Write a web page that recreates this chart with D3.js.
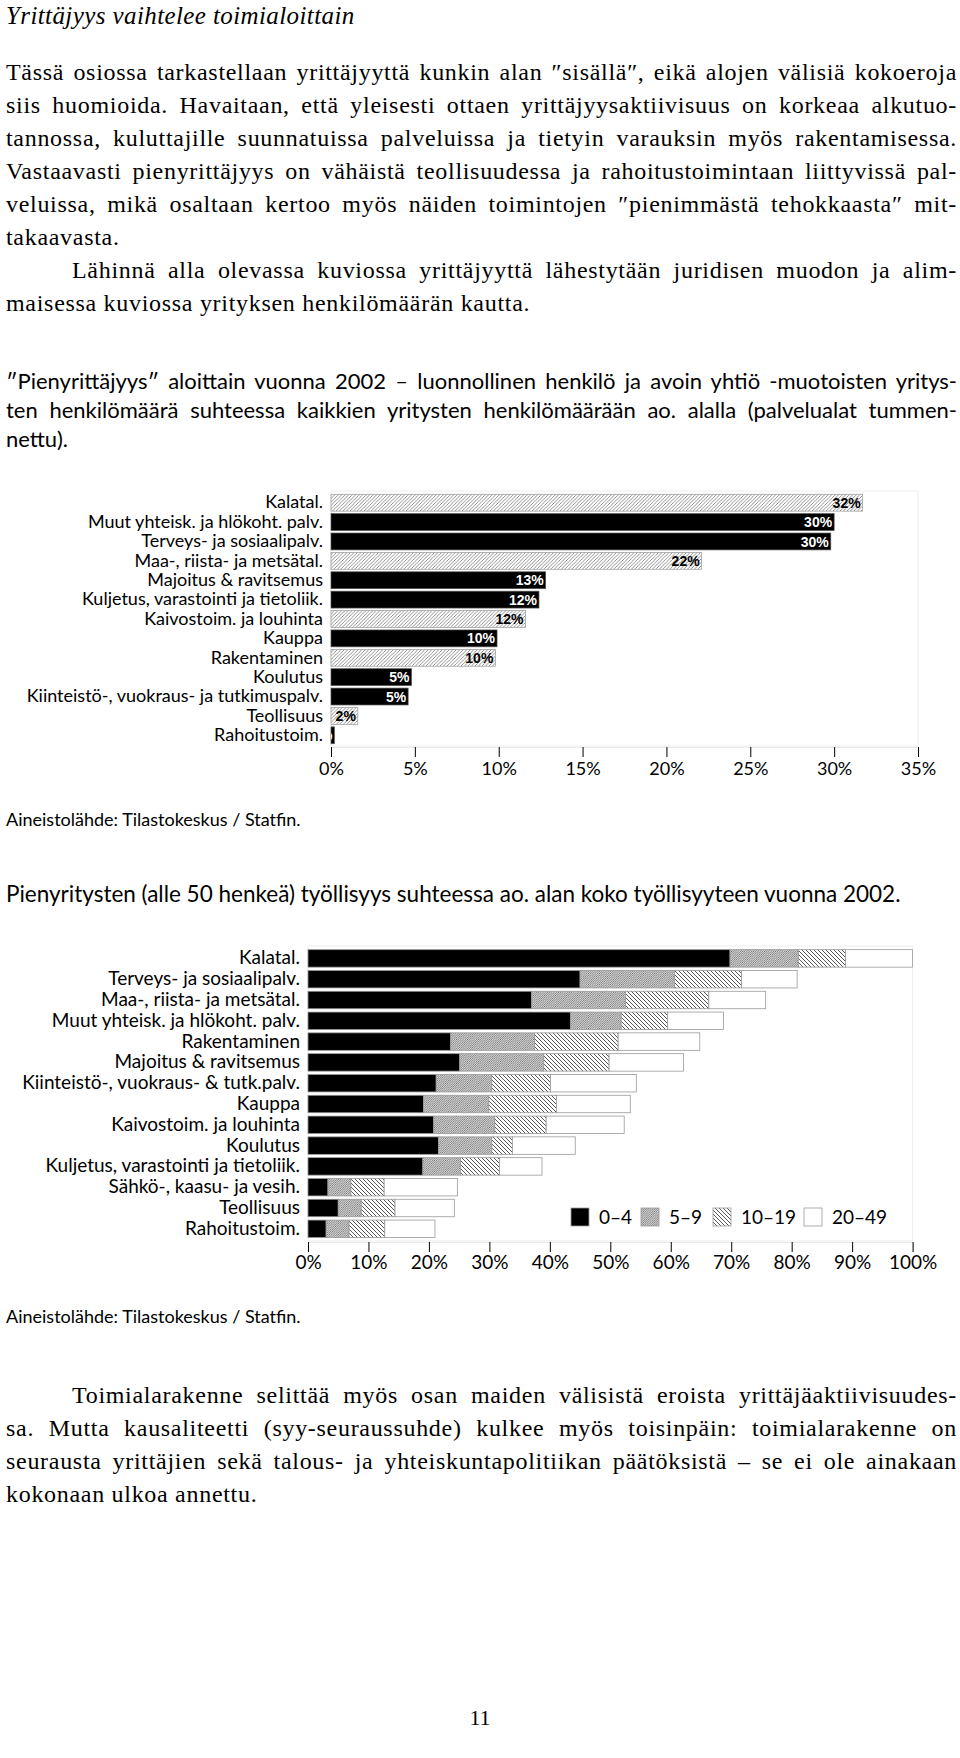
<!DOCTYPE html>
<html lang="fi">
<head>
<meta charset="utf-8">
<script src="https://cdn.jsdelivr.net/npm/d3@7"></script>
<style>
  body { margin: 0; background: #fff; }
  #page { position: relative; width: 960px; height: 1758px; overflow: hidden; background: #fff; }
  .line { position: absolute; left: 6px; width: 951px; height: 34px; line-height: 34px;
          box-sizing: border-box; white-space: nowrap;
          font-family: "Liberation Serif", serif; font-size: 24px; letter-spacing: 0.7px; color: #000; }
  .line.sans { font-family: Lato, sans-serif; font-size: 22px; letter-spacing: 0; }
  .line.title { font-style: italic; font-size: 25px; letter-spacing: 0.4px; }
  svg { position: absolute; left: 0; top: 0; }
</style>
</head>
<body>
<div id="page"></div>
<script>
// ---- Chart 1: small entrepreneurship share by industry (2002) ----
const industries1 = [
    "Kalatal.",
    "Muut yhteisk. ja hlökoht. palv.",
    "Terveys- ja sosiaalipalv.",
    "Maa-, riista- ja metsätal.",
    "Majoitus & ravitsemus",
    "Kuljetus, varastointi ja tietoliik.",
    "Kaivostoim. ja louhinta",
    "Kauppa",
    "Rakentaminen",
    "Koulutus",
    "Kiinteistö-, vuokraus- ja tutkimuspalv.",
    "Teollisuus",
    "Rahoitustoim."
];
const smallShare = [31.7, 30.0, 29.8, 22.1, 12.8, 12.4, 11.6, 9.9, 9.8, 4.8, 4.6, 1.6, 0.2];
const isService = [false, true, true, false, true, true, false, true, false, true, true, false, true];
const ticks1 = [0, 5, 10, 15, 20, 25, 30, 35];

// ---- Chart 2: employment in small firms by size class ----
const industries2 = [
    "Kalatal.",
    "Terveys- ja sosiaalipalv.",
    "Maa-, riista- ja metsätal.",
    "Muut yhteisk. ja hlökoht. palv.",
    "Rakentaminen",
    "Majoitus & ravitsemus",
    "Kiinteistö-, vuokraus- & tutk.palv.",
    "Kauppa",
    "Kaivostoim. ja louhinta",
    "Koulutus",
    "Kuljetus, varastointi ja tietoliik.",
    "Sähkö-, kaasu- ja vesih.",
    "Teollisuus",
    "Rahoitustoim."
];
const size0to4   = [69.8, 45.0, 37.0, 43.4, 23.6, 25.1, 21.2, 19.1, 20.8, 21.6, 19.0, 3.3, 5.0, 3.0];
const size5to9   = [11.3, 15.6, 15.5, 8.4, 13.9, 13.9, 9.2, 10.8, 10.1, 8.8, 6.2, 3.8, 3.8, 3.8];
const size10to19 = [7.8, 11.1, 13.8, 7.7, 13.8, 10.8, 9.7, 11.2, 8.5, 3.4, 6.5, 5.5, 5.6, 5.9];
const size20to49 = [11.1, 9.2, 9.4, 9.2, 13.5, 12.3, 14.2, 12.2, 12.9, 10.4, 7.0, 12.1, 9.8, 8.3];
const sizeClasses = ["0–4", "5–9", "10–19", "20–49"];
const ticks2 = [0, 10, 20, 30, 40, 50, 60, 70, 80, 90, 100];

// ---- Page text ----
const introLines = [
    "Tässä osiossa tarkastellaan yrittäjyyttä kunkin alan ″sisällä″, eikä alojen välisiä kokoeroja",
    "siis huomioida. Havaitaan, että yleisesti ottaen yrittäjyysaktiivisuus on korkeaa alkutuo-",
    "tannossa, kuluttajille suunnatuissa palveluissa ja tietyin varauksin myös rakentamisessa.",
    "Vastaavasti pienyrittäjyys on vähäistä teollisuudessa ja rahoitustoimintaan liittyvissä pal-",
    "veluissa, mikä osaltaan kertoo myös näiden toimintojen ″pienimmästä tehokkaasta″ mit-",
    "takaavasta.",
    "Lähinnä alla olevassa kuviossa yrittäjyyttä lähestytään juridisen muodon ja alim-",
    "maisessa kuviossa yrityksen henkilömäärän kautta."
];
const heading1Lines = [
    "″Pienyrittäjyys″ aloittain vuonna 2002 – luonnollinen henkilö ja avoin yhtiö -muotoisten yritys-",
    "ten henkilömäärä suhteessa kaikkien yritysten henkilömäärään ao. alalla (palvelualat tummen-",
    "nettu)."
];
const outroLines = [
    "Toimialarakenne selittää myös osan maiden välisistä eroista yrittäjäaktiivisuudes-",
    "sa. Mutta kausaliteetti (syy-seuraussuhde) kulkee myös toisinpäin: toimialarakenne on",
    "seurausta yrittäjien sekä talous- ja yhteiskuntapolitiikan päätöksistä – se ei ole ainakaan",
    "kokonaan ulkoa annettu."
];

const page = d3.select("#page");
const lineWidth = 951;

// one line of running text, y = vertical centre; justified lines get word-spacing
function textLine(text, y, opts) {
    const div = page.append("div")
        .attr("class", "line" + (opts.cls ? " " + opts.cls : ""))
        .style("top", (y - 17) + "px")
        .style("padding-left", (opts.indent || 0) + "px");
    const span = div.append("span").text(text);
    if (opts.justify) {
        const w = span.node().getBoundingClientRect().width;
        const gaps = (text.match(/ /g) || []).length;
        const extra = (lineWidth - (opts.indent || 0) - w) / gaps;
        span.style("word-spacing", extra + "px");
    }
    return div;
}

textLine("Yrittäjyys vaihtelee toimialoittain", 16, { cls: "title" });

introLines.forEach((t, i) => {
    textLine(t, 72 + i * 33, {
        justify: i !== 5 && i !== 7,
        indent: i === 6 ? 66 : 0
    });
});

heading1Lines.forEach((t, i) => {
    textLine(t, 381 + i * 29, { cls: "sans", justify: i < 2 });
});

outroLines.forEach((t, i) => {
    textLine(t, 1395 + i * 33, { justify: i < 3, indent: i === 0 ? 66 : 0 });
});

// ---- SVG for both charts ----
const svg = page.append("svg")
    .attr("width", 960)
    .attr("height", 1758);

const defs = svg.append("defs");

// diagonal line pattern, dir "/" or "\"
function hatch(id, s, bg, color, w, dir) {
    const p = defs.append("pattern")
        .attr("id", id)
        .attr("patternUnits", "userSpaceOnUse")
        .attr("width", s)
        .attr("height", s);
    p.append("rect").attr("width", s).attr("height", s).attr("fill", bg);
    const d = dir === "/"
        ? `M-1,1 l2,-2 M0,${s} l${s},${-s} M${s - 1},${s + 1} l2,-2`
        : `M-1,${s - 1} l2,2 M0,0 l${s},${s} M${s - 1},-1 l2,2`;
    p.append("path").attr("d", d).attr("stroke", color).attr("stroke-width", w);
}
hatch("hatch1", 3.5, "#fff", "#777", 0.8, "/");
hatch("fine", 2.2, "#d4d4d4", "#666", 0.7, "/");
hatch("back", 4, "#fff", "#444", 0.9, "\\");

const labelFont = "Lato, sans-serif";

// ============ Chart 1 ============
const x1 = d3.scaleLinear().domain([0, 35]).range([331, 918]);
const y1 = d3.scaleBand()
    .domain(industries1)
    .range([493, 745])
    .paddingInner(0.13)
    .paddingOuter(0.065);

// faint plot frame
svg.append("rect")
    .attr("x", x1(0)).attr("y", 491)
    .attr("width", x1(35) - x1(0)).attr("height", 255)
    .attr("fill", "none").attr("stroke", "#eeeeee");

const rows1 = industries1.map((name, i) => ({ name, value: smallShare[i], service: isService[i] }));

svg.append("clipPath").attr("id", "clip1")
    .append("rect")
    .attr("x", x1(0)).attr("y", 490)
    .attr("width", x1(35) - x1(0)).attr("height", 256);

svg.append("g").selectAll("rect")
    .data(rows1)
    .join("rect")
    .attr("x", x1(0))
    .attr("y", d => y1(d.name))
    .attr("width", d => x1(d.value) - x1(0))
    .attr("height", y1.bandwidth())
    .attr("fill", d => d.service ? "#000" : "url(#hatch1)")
    .attr("stroke", d => d.service ? "#555" : "#999")
    .attr("stroke-width", 0.7);

// value labels inside bar ends
svg.append("g")
    .attr("clip-path", "url(#clip1)")
    .selectAll("text")
    .data(rows1)
    .join("text")
    .attr("x", d => x1(d.value) - 2)
    .attr("y", d => y1(d.name) + y1.bandwidth() / 2)
    .attr("dy", "0.36em")
    .attr("text-anchor", "end")
    .attr("font-family", "'Liberation Sans Narrow', 'Liberation Sans', sans-serif")
    .attr("font-stretch", "condensed")
    .attr("font-weight", "bold")
    .attr("font-size", 14)
    .attr("fill", d => d.service ? "#fff" : "#000")
    .text(d => Math.round(d.value) + "%");

// category axis
svg.append("g")
    .attr("transform", `translate(${x1(0)},0)`)
    .call(d3.axisLeft(y1).tickSize(0).tickPadding(8))
    .call(g => g.select(".domain").remove())
    .selectAll("text")
    .attr("font-family", labelFont)
    .attr("font-size", 18)
    .attr("fill", "#000");

// value axis
svg.append("g")
    .attr("transform", "translate(0,747)")
    .call(d3.axisBottom(x1).tickValues(ticks1).tickSize(10).tickPadding(5).tickFormat(d => d + "%"))
    .call(g => g.select(".domain").attr("stroke", "#e8e8e8"))
    .call(g => g.selectAll("text").attr("font-family", labelFont).attr("font-size", 18).attr("fill", "#000"));

svg.append("text")
    .attr("x", 6).attr("y", 820).attr("dy", "0.35em")
    .attr("font-family", labelFont).attr("font-size", 18)
    .text("Aineistolähde: Tilastokeskus / Statfin.");

svg.append("text")
    .attr("x", 6).attr("y", 894).attr("dy", "0.35em")
    .attr("font-family", labelFont).attr("font-size", 22.5)
    .text("Pienyritysten (alle 50 henkeä) työllisyys suhteessa ao. alan koko työllisyyteen vuonna 2002.");

// ============ Chart 2 ============
const x2 = d3.scaleLinear().domain([0, 100]).range([308, 912.6]);
const y2 = d3.scaleBand()
    .domain(industries2)
    .range([948, 1239.2])
    .paddingInner(0.16)
    .paddingOuter(0.08);

svg.append("rect")
    .attr("x", x2(0)).attr("y", 946)
    .attr("width", x2(100) - x2(0)).attr("height", 295)
    .attr("fill", "none").attr("stroke", "#eeeeee");

const rows2 = industries2.map((name, i) => ({
    name,
    "0–4": size0to4[i],
    "5–9": size5to9[i],
    "10–19": size10to19[i],
    "20–49": size20to49[i]
}));
const stacked = d3.stack().keys(sizeClasses)(rows2);
const fills = ["#000", "url(#fine)", "url(#back)", "#fff"];

svg.append("g").selectAll("g")
    .data(stacked)
    .join("g")
    .attr("fill", (d, i) => fills[i])
    .selectAll("rect")
    .data(d => d)
    .join("rect")
    .attr("x", d => x2(d[0]))
    .attr("y", d => y2(d.data.name))
    .attr("width", d => x2(d[1]) - x2(d[0]))
    .attr("height", y2.bandwidth())
    .attr("stroke", "#999")
    .attr("stroke-width", 0.8);

svg.append("g")
    .attr("transform", `translate(${x2(0)},0)`)
    .call(d3.axisLeft(y2).tickSize(0).tickPadding(8))
    .call(g => g.select(".domain").remove())
    .selectAll("text")
    .attr("font-family", labelFont)
    .attr("font-size", 19)
    .attr("fill", "#000");

svg.append("g")
    .attr("transform", "translate(0,1242)")
    .call(d3.axisBottom(x2).tickValues(ticks2).tickSize(10).tickPadding(4).tickFormat(d => d + "%"))
    .call(g => g.select(".domain").attr("stroke", "#e8e8e8"))
    .call(g => g.selectAll("text").attr("font-family", labelFont).attr("font-size", 19).attr("fill", "#000"));

// legend
const legendX = [571, 641, 713, 804];
const legend = svg.append("g").attr("transform", "translate(0,1217)");
sizeClasses.forEach((s, i) => {
    legend.append("rect")
        .attr("x", legendX[i]).attr("y", -9)
        .attr("width", 18).attr("height", 18)
        .attr("fill", fills[i])
        .attr("stroke", "#999").attr("stroke-width", 0.8);
    legend.append("text")
        .attr("x", legendX[i] + 28).attr("y", 0).attr("dy", "0.35em")
        .attr("font-family", labelFont).attr("font-size", 19)
        .text(s);
});

svg.append("text")
    .attr("x", 6).attr("y", 1317).attr("dy", "0.35em")
    .attr("font-family", labelFont).attr("font-size", 18)
    .text("Aineistolähde: Tilastokeskus / Statfin.");

// page number
svg.append("text")
    .attr("x", 480).attr("y", 1717).attr("dy", "0.35em")
    .attr("text-anchor", "middle")
    .attr("font-family", "'Liberation Serif', serif").attr("font-size", 22)
    .text("11");
</script>
</body>
</html>
